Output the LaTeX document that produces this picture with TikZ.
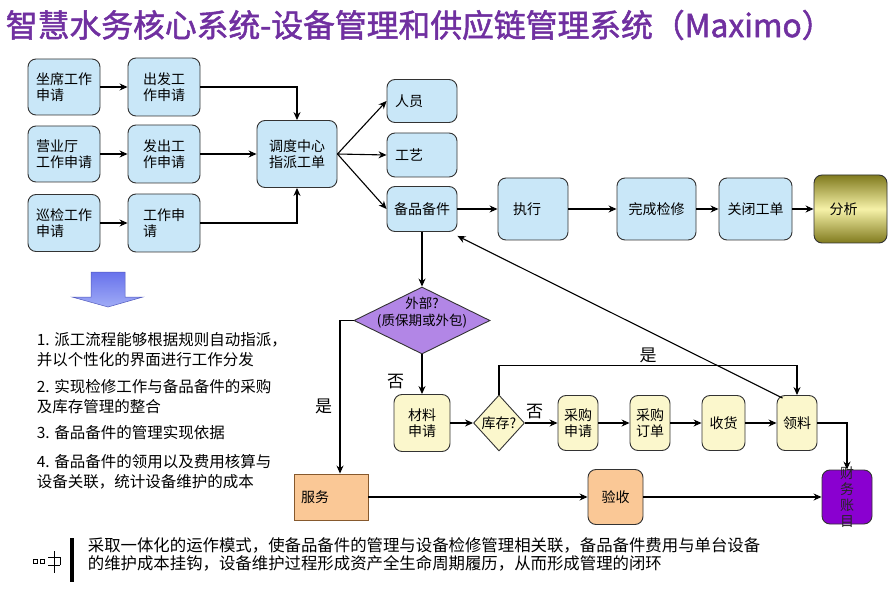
\documentclass[tikz,border=0pt]{standalone}
\usepackage{fontspec}
\setmainfont{Noto Sans CJK SC}
\newfontfamily\titlefont{Noto Sans CJK SC}[FakeBold=1.6]
\usepackage{tikz}
\usetikzlibrary{arrows.meta,shapes.geometric,positioning}
\definecolor{boxblue}{RGB}{201,231,248}
\definecolor{boxyellow}{RGB}{251,247,204}
\definecolor{boxpeach}{RGB}{250,200,150}
\definecolor{decpurple}{RGB}{178,134,230}
\definecolor{accpurple}{RGB}{138,0,208}
\definecolor{titlepurple}{RGB}{112,48,160}
\definecolor{olivedark}{RGB}{128,122,30}
\definecolor{olivelight}{RGB}{246,242,168}
\definecolor{arrowtop}{RGB}{104,114,236}
\definecolor{arrowbot}{RGB}{160,172,246}

\begin{document}
\begin{tikzpicture}[x=1pt,y=-1pt,->,>={Stealth[length=8pt,width=7pt]},line width=1.1pt,node distance=100pt,
    box/.style = {draw=black!80, line width=0.9pt, rounded corners=8pt, fill=boxblue,
                  align=left, inner sep=2pt, font=\fontsize{14}{16}\selectfont},
    ybox/.style = {box, fill=boxyellow, minimum width=40pt, minimum height=55pt},
    pbox/.style = {box, fill=boxpeach},
    dec/.style = {diamond, draw=black!80, line width=0.9pt, inner sep=0pt},
    lab/.style = {font=\fontsize{17}{17}\selectfont},
    txt/.style = {anchor=west, align=left, font=\fontsize{15.5}{20}\selectfont}]
  \useasboundingbox (0,0) rectangle (889,596);

  \node[anchor=west, text=titlepurple, font=\titlefont\fontsize{31.8}{34}\selectfont] (title) at (2,25)
       {智慧水务核心系统-设备管理和供应链管理系统（Maximo）};

  \node[box, minimum width=72pt, minimum height=56pt] (seat_req)   at (64,87) {坐席工作\\申请};
  \node[box, minimum width=72pt, minimum height=58pt] (out_req)    [right of=seat_req] {出发工\\作申请};
  \node[box, minimum width=72pt, minimum height=56pt] (hall_req)   [below of=seat_req, node distance=67pt] {营业厅\\工作申请};
  \node[box, minimum width=72pt, minimum height=58pt] (issue_req)  [right of=hall_req] {发出工\\作申请};
  \node[box, minimum width=72pt, minimum height=57pt] (patrol_req) [below of=hall_req, node distance=69pt] {巡检工作\\申请};
  \node[box, minimum width=72pt, minimum height=58pt] (work_req)   [right of=patrol_req] {工作申\\请};
  \node[box, minimum width=80pt, minimum height=67pt] (dispatch)   at (297,154) {调度中心\\指派工单};

  \node[box, minimum width=70pt, minimum height=43pt] (staff)      at (422,101) {人员\hspace{26pt}};
  \node[box, minimum width=70pt, minimum height=44pt] (craft)      [below of=staff, node distance=54pt] {工艺\hspace{26pt}};
  \node[box, minimum width=70pt, minimum height=45pt] (spares)     [below of=craft, node distance=54pt] {备品备件};
  \node[box, minimum width=70pt, minimum height=62pt] (execute)    [right of=spares, node distance=111pt] {执行\hspace{12pt}};
  \node[box, minimum width=79pt, minimum height=62pt] (finish)     [right of=execute, node distance=123.5pt] {完成检修};
  \node[box, minimum width=73pt, minimum height=62pt] (close_wo)   [right of=finish, node distance=99pt] {关闭工单};
  \node[box, minimum width=73pt, minimum height=68pt, top color=olivedark, bottom color=olivedark,
        middle color=olivelight] (analyse) [right of=close_wo, node distance=95pt] {分析\hspace{14pt}};

  \node[dec, fill=decpurple, minimum width=136pt, minimum height=67pt,
        label={[align=center, font=\fontsize{13.5}{17}\selectfont, yshift=8pt]center:外部?\\(质保期或外包)}]
        (external) [below of=spares, node distance=111.5pt] {};
  \node[ybox, minimum width=56pt, minimum height=57pt] (material) [below of=external, node distance=102.5pt] {材料\\申请};
  \node[dec, fill=boxyellow, minimum width=51pt, minimum height=56pt,
        label={[font=\fontsize{14}{16}\selectfont]center:库存?}] (stock) [right of=material, node distance=77pt] {};
  \node[ybox] (pur_req)   [right of=stock, node distance=79pt] {采购\\申请};
  \node[ybox] (pur_order) [right of=pur_req, node distance=72pt] {采购\\订单};
  \node[ybox, minimum width=43pt] (receive) [right of=pur_order, node distance=73.5pt] {收货};
  \node[ybox] (pick)      [right of=receive, node distance=73.5pt] {领料};

  \node[pbox, rounded corners=0pt, draw=brown!70!black, minimum width=74pt, minimum height=46pt,
        text width=60pt] (service) at (331,497) {服务};
  \node[pbox, minimum width=55pt, minimum height=55pt] (accept) at (615.5,497) {验收};
  \node[box, fill=accpurple, minimum width=50pt, minimum height=54pt,
        label={[align=center, text=black!85, font=\fontsize{14}{16}\selectfont]center:财\\务\\账\\目}]
        (finance) at (847,497) {};

  \path (seat_req)   edge (out_req)
        (hall_req)   edge (issue_req)
        (patrol_req) edge (work_req)
        (issue_req)  edge (dispatch)
        (dispatch.east) edge (staff.west)
                        edge (craft.west)
                        edge (spares.west)
        (spares)     edge (execute)
                     edge (external)
        (execute)    edge (finish)
        (finish)     edge (close_wo)
        (close_wo)   edge (analyse)
        (material)   edge (stock)
        (stock)      edge node[lab, above, pos=0.3] {否} (pur_req)
        (pur_req)    edge (pur_order)
        (pur_order)  edge (receive)
        (receive)    edge (pick)
        (service)    edge (accept)
        (accept)     edge (finance)
        (external)   edge node[lab, left=14pt, pos=0.68] {否} (material);

  \draw (out_req) -| (dispatch);
  \draw (work_req) -| (dispatch);
  \draw (external.west) -| node[lab, pos=0.78, left=4pt] {是} ([xshift=9pt]service.north);
  \draw (stock.north) -- ++(0,-29) -| node[lab, pos=0.25, above=-1pt] {是} (pick.north);
  \draw (pick) -| (finance);
  \draw ([xshift=6pt,yshift=-3pt]pick.north west) -- ([yshift=-4pt]spares.south east);

  \shade[top color=arrowtop, bottom color=arrowbot, draw=arrowtop!80!black, line width=0.5pt]
        (91,272) -- (125,272) -- (125,297) -- (143,297) -- (108,307) -- (72,297) -- (91,297) -- cycle;

  \node[txt] (item1) at (33,349.5) {1. 派工流程能够根据规则自动指派，\\并以个性化的界面进行工作分发};
  \node[txt] (item2) at (33,397)   {2. 实现检修工作与备品备件的采购\\及库存管理的整合};
  \node[txt] (item3) at (33,433)   {3. 备品备件的管理实现依据};
  \node[txt] (item4) at (33,472)   {4. 备品备件的领用以及费用核算与\\设备关联，统计设备维护的成本};

  \fill (70,538) rectangle (74,582);
  \draw[-, line width=0.7pt] (33,559) rectangle (37,563) (40,559) rectangle (44,563)
        (54,551) -- (54,573) (48,557) -- (60,557) (48,565) -- (60,565) (60,557) -- (60,565);
  \node[anchor=west, align=left, font=\fontsize{16.4}{18}\selectfont] (summary) at (84,554)
       {采取一体化的运作模式，使备品备件的管理与设备检修管理相关联，备品备件费用与单台设备\\的维护成本挂钩，设备维护过程形成资产全生命周期履历，从而形成管理的闭环};
\end{tikzpicture}
\end{document}
